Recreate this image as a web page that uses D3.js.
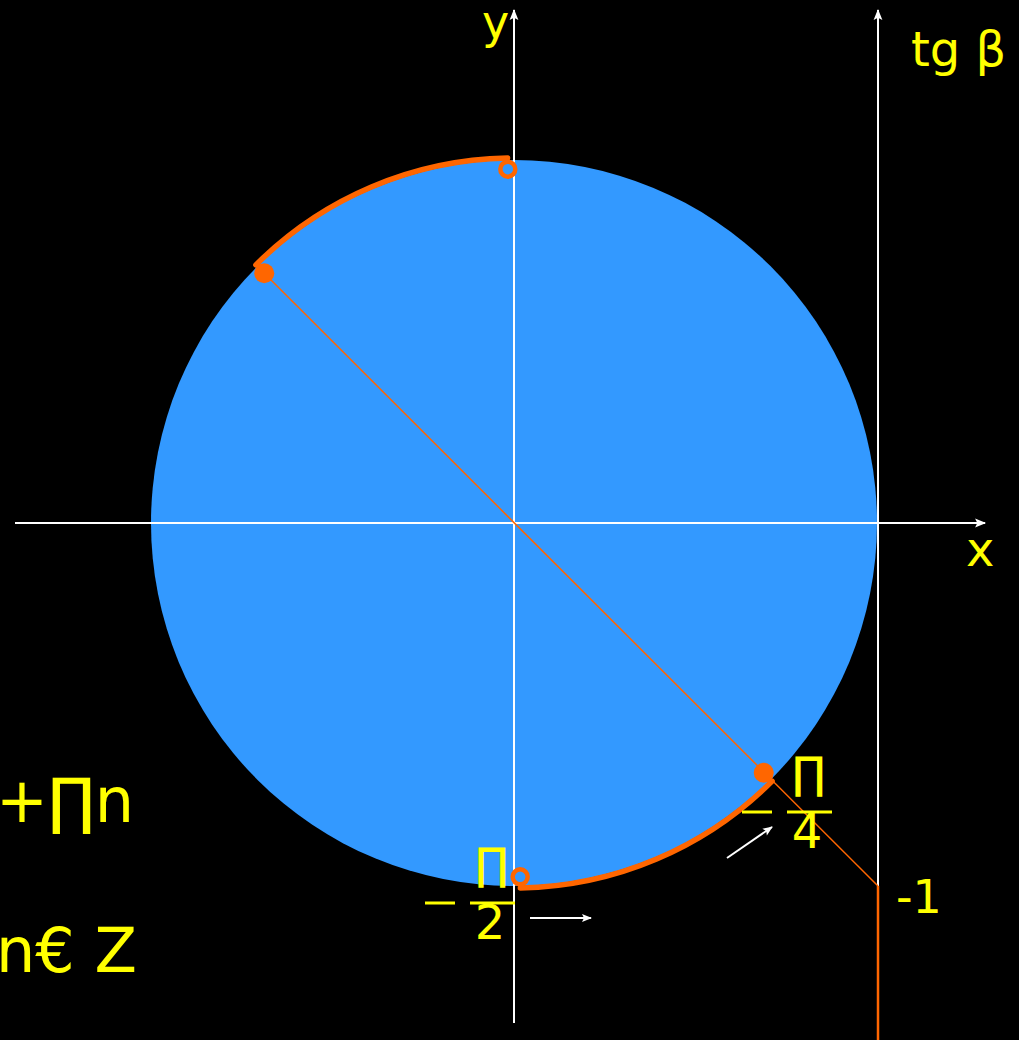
<!DOCTYPE html>
<html>
<head>
<meta charset="utf-8">
<script src="https://cdn.jsdelivr.net/npm/d3@7"></script>
<style>
	html, body { margin: 0; padding: 0; background: #000; }
	svg { display: block; }
	text { font-family: "DejaVu Sans", Verdana, sans-serif; fill: #ffff00; }
</style>
</head>
<body>
<div id="chart"></div>
<script>
// unit circle values (domain units, radius = 1)
let pointAngles = [135, -45];          // filled points (degrees)
let openAngles = [91, -89];            // open points (excluded)
let arcRanges = [[135, 91], [-89, -45]];
let tangentValue = -1;                  // tg beta for -pi/4
let axisLabels = ['x', 'y', 'tg β'];
let sideText = ['+∏n', 'n€ Z'];
let fracLabels = [{ num: '∏', den: '2' }, { num: '∏', den: '4' }];

let W = 1019, H = 1040;
let col = { bg: '#000', circ: '#3399ff', orng: '#ff6600', txt: '#ffff00', ax: '#fff' };

let sx = d3.scaleLinear().domain([-1, 1]).range([151, 877]);
let sy = d3.scaleLinear().domain([-1, 1]).range([886, 160]);
let R = sx(1) - sx(0);
const rad = (a) => a * Math.PI / 180;
const px = (a, r) => sx(r * Math.cos(rad(a)));
const py = (a, r) => sy(r * Math.sin(rad(a)));

const svg = d3.select('#chart').append('svg').attr('width', W).attr('height', H);
svg.append('rect').attr('width', W).attr('height', H).attr('fill', col.bg);

let defs = svg.append('defs');
defs.append('marker').attr('id', 'arr').attr('viewBox', '0 0 10 10').attr('refX', 9).attr('refY', 5)
	.attr('markerWidth', 12).attr('markerHeight', 10).attr('orient', 'auto').attr('markerUnits', 'userSpaceOnUse')
	.append('path').attr('d', 'M0,1 L10,5 L0,9 L2,5 Z').attr('fill', col.ax);
defs.append('marker').attr('id', 'arrBig').attr('viewBox', '0 0 10 10').attr('refX', 9).attr('refY', 5)
	.attr('markerWidth', 15).attr('markerHeight', 11).attr('orient', 'auto').attr('markerUnits', 'userSpaceOnUse')
	.append('path').attr('d', 'M0,1 L10,5 L0,9 L2,5 Z').attr('fill', col.ax);

// circle
svg.append('circle').attr('cx', sx(0)).attr('cy', sy(0)).attr('r', R).attr('fill', col.circ);

// axes
svg.append('line').attr('x1', 15).attr('y1', sy(0)).attr('x2', 985).attr('y2', sy(0))
	.attr('stroke', col.ax).attr('stroke-width', 2).attr('marker-end', 'url(#arrBig)');
svg.append('line').attr('x1', sx(0)).attr('y1', 1023).attr('x2', sx(0)).attr('y2', 10)
	.attr('stroke', col.ax).attr('stroke-width', 2).attr('marker-end', 'url(#arrBig)');
// tangent axis
svg.append('line').attr('x1', sx(1) + 1).attr('y1', sy(tangentValue)).attr('x2', sx(1) + 1).attr('y2', 10)
	.attr('stroke', col.ax).attr('stroke-width', 2).attr('marker-end', 'url(#arrBig)');
svg.append('line').attr('x1', sx(1) + 1).attr('y1', sy(tangentValue)).attr('x2', sx(1) + 1).attr('y2', H)
	.attr('stroke', col.orng).attr('stroke-width', 2.5);

// diagonal through the centre to the tangent value
svg.append('line').attr('x1', px(pointAngles[0], 0.97)).attr('y1', py(pointAngles[0], 0.97))
	.attr('x2', sx(1) + 1).attr('y2', sy(tangentValue)).attr('stroke', col.orng).attr('stroke-width', 1.5);

// arcs (drawn just outside the circle)
arcRanges.forEach((rg) => {
	let p = d3.path();
	let r0 = R + 2;
	p.arc(sx(0), sy(0), r0, -rad(rg[0]), -rad(rg[1]), rg[0] < rg[1] ? true : false);
	svg.append('path').attr('d', p.toString()).attr('fill', 'none')
		.attr('stroke', col.orng).attr('stroke-width', 5.5).attr('stroke-linecap', 'round');
});

// points
svg.selectAll('.pt').data(pointAngles).enter().append('circle')
	.attr('cx', (d) => px(d, 0.973)).attr('cy', (d) => py(d, 0.973)).attr('r', 10).attr('fill', col.orng);
svg.selectAll('.op').data(openAngles).enter().append('circle')
	.attr('cx', (d) => px(d, 0.975)).attr('cy', (d) => py(d, 0.975)).attr('r', 7.5)
	.attr('fill', col.circ).attr('stroke', col.orng).attr('stroke-width', 4.5);

// small arrows
svg.append('line').attr('x1', 530).attr('y1', 918).attr('x2', 591).attr('y2', 918)
	.attr('stroke', col.ax).attr('stroke-width', 2).attr('marker-end', 'url(#arr)');
svg.append('line').attr('x1', 727).attr('y1', 858).attr('x2', 772).attr('y2', 827)
	.attr('stroke', col.ax).attr('stroke-width', 2).attr('marker-end', 'url(#arr)');

// axis labels
svg.append('text').attr('x', 482).attr('y', 38).attr('font-size', 46).text(axisLabels[1]);
svg.append('text').attr('x', 966).attr('y', 566).attr('font-size', 48).text(axisLabels[0]);
svg.append('text').attr('x', 911).attr('y', 66).attr('font-size', 48).text(axisLabels[2]);
svg.append('text').attr('x', 896).attr('y', 913).attr('font-size', 46).text(String(tangentValue));

// -pi/2 and -pi/4 fractions
function frac(lbl, mx, bx, by) {
	svg.append('rect').attr('x', mx).attr('y', by - 1.5).attr('width', 30).attr('height', 3).attr('fill', col.txt);
	svg.append('rect').attr('x', bx).attr('y', by - 1.5).attr('width', 45).attr('height', 3).attr('fill', col.txt);
	svg.append('text').attr('x', bx + 22).attr('y', by - 24).attr('text-anchor', 'middle').attr('font-size', 44).text(lbl.num);
	svg.append('text').attr('x', bx + 20).attr('y', by + 36).attr('text-anchor', 'middle').attr('font-size', 48).text(lbl.den);
}
frac(fracLabels[0], 425, 470, 903);
frac(fracLabels[1], 742, 787, 812);

// side formula
svg.append('text').attr('x', -4).attr('y', 822).attr('font-size', 62).text(sideText[0]);
svg.append('text').attr('x', -4).attr('y', 972).attr('font-size', 62).text(sideText[1]);
</script>
</body>
</html>
